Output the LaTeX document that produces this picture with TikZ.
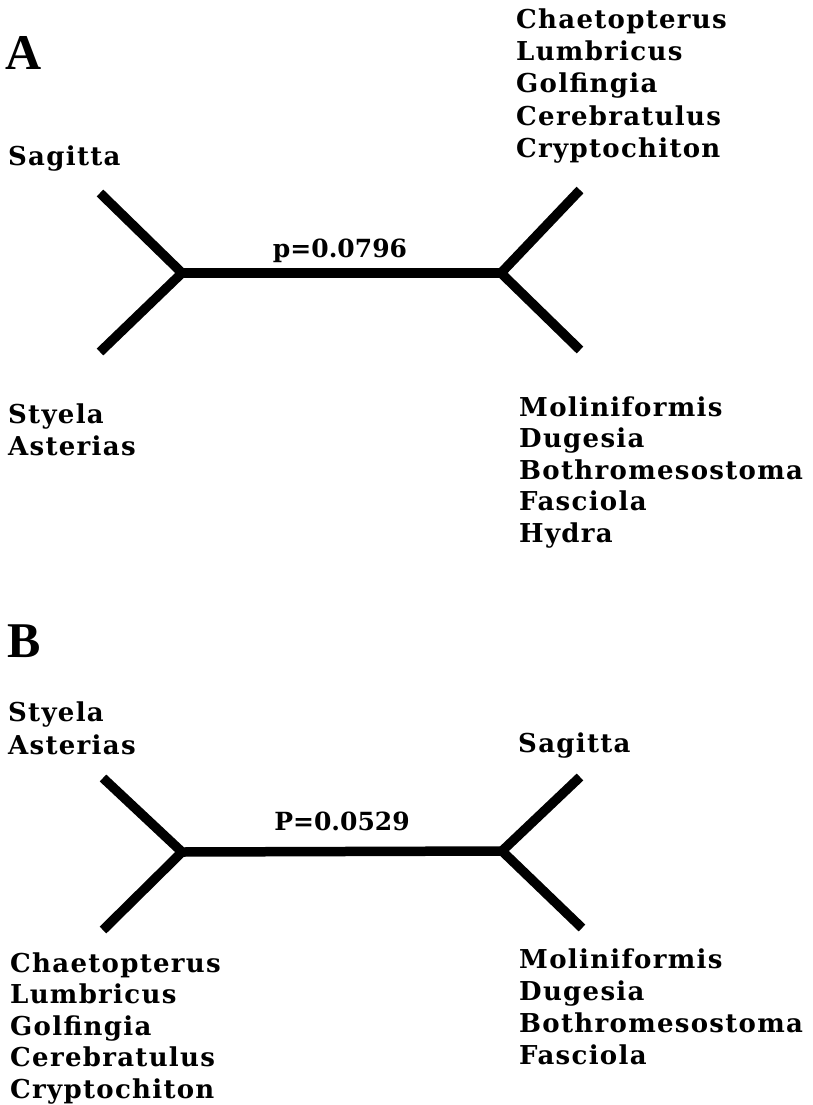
\documentclass[tikz,border=0pt]{standalone}
\usepackage{fontspec}
\setmainfont{Liberation Serif}
\newfontfamily\taxfont{DejaVu Serif}[LetterSpace=5]
\newfontfamily\pfont{DejaVu Serif}
\begin{document}
\begin{tikzpicture}[x=1pt,y=-1pt,
    taxon/.style={anchor=base west,inner sep=0pt,font=\taxfont\bfseries\fontsize{26}{30}\selectfont},
    pval/.style={anchor=base,inner sep=0pt,font=\pfont\bfseries\fontsize{25}{30}\selectfont},
    panel/.style={anchor=base west,inner sep=0pt,font=\bfseries\fontsize{50}{50}\selectfont},
    branch/.style={line width=9.5pt,line join=round}]
  \useasboundingbox (0,0) rectangle (813,1105);

  % tree A
  \node[panel] (pa) at (5,70) {A};
  \coordinate (al) at (182,273);
  \coordinate (ar) at (501,273);
  \coordinate (alu) at (100,193);
  \coordinate (ald) at (100,352);
  \coordinate (aru) at (580,190);
  \coordinate (ard) at (580,350);
  \draw[branch] (alu) -- (al) -- (ald);
  \draw[branch] (aru) -- (ar) -- (ard);
  \draw[branch] (al) -- (ar);
  \node[pval] (pvala) at (340,257) {p=0.0796};

  \node[taxon] (sagA) at (8,165) {Sagitta};
  \foreach \name [count=\i] in {Styela,Asterias}
    \node[taxon] (ald\i) at (8,{423+32*(\i-1)}) {\name};
  \foreach \name [count=\i] in {Chaetopterus,Lumbricus,Golfingia,Cerebratulus,Cryptochiton}
    \node[taxon] (aru\i) at (516,{28.5+32.2*(\i-1)}) {\name};
  \foreach \name [count=\i] in {Moliniformis,Dugesia,Bothromesostoma,Fasciola,Hydra}
    \node[taxon] (ard\i) at (519,{416+31.6*(\i-1)}) {\name};

  % tree B
  \node[panel] (pb) at (7,657) {B};
  \coordinate (bl) at (182,852);
  \coordinate (br) at (502,851);
  \coordinate (blu) at (103,778);
  \coordinate (bld) at (103,930);
  \coordinate (bru) at (580,777);
  \coordinate (brd) at (582,928);
  \draw[branch] (blu) -- (bl) -- (bld);
  \draw[branch] (bru) -- (br) -- (brd);
  \draw[branch] (bl) -- (br);
  \node[pval] (pvalb) at (342,830) {P=0.0529};

  \foreach \name [count=\i] in {Styela,Asterias}
    \node[taxon] (blu\i) at (8,{721+33*(\i-1)}) {\name};
  \node[taxon] (sagB) at (518,752) {Sagitta};
  \foreach \name [count=\i] in {Chaetopterus,Lumbricus,Golfingia,Cerebratulus,Cryptochiton}
    \node[taxon] (bld\i) at (10,{972+31.5*(\i-1)}) {\name};
  \foreach \name [count=\i] in {Moliniformis,Dugesia,Bothromesostoma,Fasciola}
    \node[taxon] (brd\i) at (519,{968+32*(\i-1)}) {\name};
\end{tikzpicture}
\end{document}
